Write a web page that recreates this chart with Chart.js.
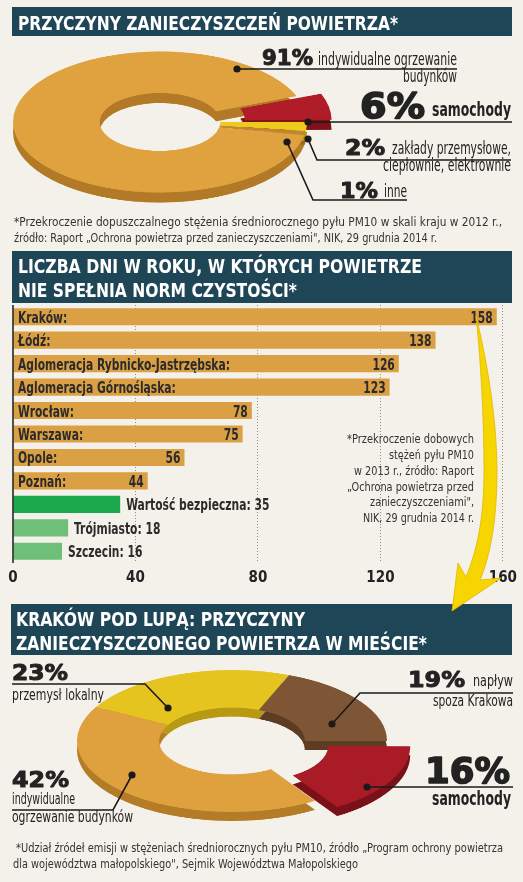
<!DOCTYPE html>
<html><head><meta charset="utf-8">
<script src="https://cdn.jsdelivr.net/npm/chart.js@4"></script>
<style>
html,body{margin:0;padding:0;background:#f4f1ea;width:523px;height:882px;overflow:hidden;}
#page{position:relative;width:523px;height:882px;}
canvas{position:absolute;}
#ov{position:absolute;left:0;top:0;pointer-events:none;}
.cn{font-family:'Liberation Sans Narrow','DejaVu Sans Condensed','Roboto Condensed',Roboto,sans-serif;}
.hv{font-family:'DejaVu Sans',Roboto,sans-serif;font-weight:bold;stroke:#222;paint-order:stroke;stroke-linejoin:round;}
</style></head><body><div id="page">
<canvas id="d1s" width="360" height="360"></canvas>
<canvas id="d1" width="360" height="360"></canvas>
<canvas id="bars" width="523" height="299"></canvas>
<canvas id="d2s" width="380" height="380"></canvas>
<canvas id="d2" width="380" height="380"></canvas>
<svg id="ov" width="523" height="882" xmlns="http://www.w3.org/2000/svg"></svg>
</div>
<script>
// ---------- DATA ----------
const polandSources = ['samochody', 'zakłady przemysłowe, ciepłownie, elektrownie', 'inne', 'indywidualne ogrzewanie budynków'];
const polandShares = [6, 2, 1, 91];

const cityNames = ['Kraków', 'Łódź', 'Aglomeracja Rybnicko-Jastrzębska', 'Aglomeracja Górnośląska', 'Wrocław', 'Warszawa', 'Opole', 'Poznań', 'Wartość bezpieczna', 'Trójmiasto', 'Szczecin'];
const smogDays = [158, 138, 126, 123, 78, 75, 56, 44, 35, 18, 16];
const dayTicks = [0, 40, 80, 120, 160];

const krakowSources = ['przemysł lokalny', 'napływ spoza Krakowa', 'samochody', 'indywidualne ogrzewanie budynków'];
const krakowShares = [23, 19, 16, 42];

// ---------- STYLES ----------
const FONT = "'Liberation Sans Narrow','DejaVu Sans Condensed','Roboto Condensed',Roboto,sans-serif";
const barColors = ['#dca044','#dca044','#dca044','#dca044','#dca044','#dca044','#dca044','#dca044','#1ca84d','#6ebf78','#6ebf78'];

function place(id, left, top, k) {
  const c = document.getElementById(id);
  c.style.left = left + 'px'; c.style.top = top + 'px';
  c.style.transform = 'scaleY(' + k + ')';
  c.style.transformOrigin = '50% 50%';
  return c;
}
function donut(id, values, labels, colors, radius, cutout, rotation, offsets) {
  return new Chart(document.getElementById(id), {
    type: 'doughnut',
    data: { labels: labels, datasets: [{ data: values, backgroundColor: colors, borderWidth: 0, offset: offsets }] },
    options: {
      responsive: false, animation: false, radius: radius, cutout: cutout, rotation: rotation,
      layout: { padding: 0 },
      plugins: { legend: { display: false }, tooltip: { enabled: false } }
    }
  });
}

// Top donut: centre (160,122), radius 147, vertical squash, 10px thick
const k1 = 0.48;
place('d1s', 160 - 180, 122 - 180 + 10, k1);
place('d1', 160 - 180, 122 - 180, k1);
const rot1 = 90 - polandShares[0] * 3.6;
const off1 = [61, 0, 0, 0];
donut('d1s', polandShares, polandSources, ['#7e1119', '#b89a10', '#9a6a1e', '#b27a26'], 147, '41%', rot1, off1);
donut('d1', polandShares, polandSources, ['#b01c27', '#eccb1c', '#c2872c', '#e0a13f'], 147, '41%', rot1, off1);

// Bottom donut: centre (232,741), radius 155, 9px thick
const k2 = 0.458;
place('d2s', 232 - 190, 741 - 190 + 9, k2);
place('d2', 232 - 190, 741 - 190, k2);
const rot2 = 90 - (krakowShares[0] + krakowShares[1]) * 3.6;
const off2 = [0, 0, 90, 0];
donut('d2s', krakowShares, krakowSources, ['#b89a12', '#5c3c22', '#7a1119', '#b57c28'], 155, '47%', rot2, off2);
donut('d2', krakowShares, krakowSources, ['#e6c41f', '#7e5635', '#a91c27', '#dfa03e'], 155, '47%', rot2, off2);

// Bar chart
const barCanvas = document.getElementById('bars');
barCanvas.style.left = '0px'; barCanvas.style.top = '300px';
let SX = 1;
const barLabels = {
  id: 'barLabels',
  afterDatasetsDraw(chart) {
    const ctx = chart.ctx, xs = chart.scales.x, meta = chart.getDatasetMeta(0);
    const x0 = xs.getPixelForValue(0);
    ctx.save();
    ctx.strokeStyle = '#1a1a1a'; ctx.lineWidth = 1.5;
    ctx.beginPath(); ctx.moveTo(x0, chart.chartArea.top); ctx.lineTo(x0, chart.chartArea.bottom); ctx.stroke();
    ctx.font = 'bold 16px ' + FONT;
    SX = Math.min(1, 212 / ctx.measureText(cityNames[2] + ':').width);
    ctx.fillStyle = '#2b2b2b'; ctx.textBaseline = 'alphabetic';
    const draw = (s, x, y, align) => {
      const w = ctx.measureText(s).width * SX;
      const lx = align === 'right' ? x - w : x;
      ctx.save(); ctx.translate(lx, y); ctx.scale(SX, 1); ctx.textAlign = 'left'; ctx.fillText(s, 0, 0); ctx.restore();
    };
    meta.data.forEach((bar, i) => {
      const name = cityNames[i] + ':', val = String(smogDays[i]);
      const wN = ctx.measureText(name).width * SX, wV = ctx.measureText(val).width * SX;
      const y = bar.y + 6;
      if (x0 + 5 + wN + 10 + wV + 4 <= bar.x) {
        draw(name, x0 + 5, y, 'left');
        draw(val, bar.x - 4, y, 'right');
      } else {
        draw(name + ' ' + val, bar.x + 6, y, 'left');
      }
    });
    ctx.restore();
  }
};
new Chart(barCanvas, {
  type: 'bar',
  data: { labels: cityNames, datasets: [{ data: smogDays, backgroundColor: barColors, borderWidth: 0, categoryPercentage: 1, barPercentage: 0.73 }] },
  options: {
    indexAxis: 'y', responsive: false, animation: false,
    layout: { padding: { left: 13, right: 16, top: 5, bottom: 6 } },
    scales: {
      x: {
        min: 0, max: 160,
        afterBuildTicks: s => { s.ticks = dayTicks.map(v => ({ value: v })); },
        grid: { color: c => (c.tick && c.tick.value === 0) ? 'rgba(0,0,0,0)' : '#8c8c8c', lineWidth: 1, drawTicks: false },
        border: { display: false, dash: [1, 2] },
        ticks: { color: '#222', padding: 6, font: { family: FONT, size: 15, weight: 'bold' } }
      },
      y: { display: false }
    },
    plugins: { legend: { display: false }, tooltip: { enabled: false } }
  },
  plugins: [barLabels]
});

// ---------- SVG overlay: headers, arrow, leaders, texts ----------
const svg = document.getElementById('ov');
const NS = 'http://www.w3.org/2000/svg';
function el(tag, attrs, text) {
  const e = document.createElementNS(NS, tag);
  for (const k in attrs) e.setAttribute(k, attrs[k]);
  if (text != null) e.textContent = text;
  svg.appendChild(e); return e;
}
function txt(s, x, y, size, w, cls, fill, weight, sw) {
  const a = { x: x, y: y, 'font-size': size, textLength: w, lengthAdjust: 'spacingAndGlyphs', class: cls, fill: fill || '#222', 'font-weight': weight || 'normal' };
  if (sw) a['stroke-width'] = sw;
  return el('text', a, s);
}
function leader(points, dot) {
  el('polyline', { points: points.map(p => p.join(',')).join(' '), fill: 'none', stroke: '#1a1a1a', 'stroke-width': 1.6 });
  el('circle', { cx: dot[0], cy: dot[1], r: 3.6, fill: '#1a1a1a' });
}
const HEAD = '#1f4656';
el('rect', { x: 12, y: 7, width: 500, height: 29, fill: HEAD });
el('rect', { x: 12, y: 251, width: 500, height: 52, fill: HEAD });
el('rect', { x: 11, y: 604, width: 501, height: 51, fill: HEAD });

// yellow arrow
el('path', { d: 'M476,316 C487,360 497,420 497,470 C497,522 490,556 480,580 L501,578 L452,611 L458,563 L466,577 C477,550 484,520 484,470 C484,420 481,362 476,316 Z', fill: '#f7d500', stroke: '#e2b600', 'stroke-width': 0.8 });

// titles
txt('PRZYCZYNY ZANIECZYSZCZEŃ POWIETRZA*', 18, 30, 19, 380, 'cn', '#fff', 'bold');
txt('LICZBA DNI W ROKU, W KTÓRYCH POWIETRZE', 18, 273, 19, 404, 'cn', '#fff', 'bold');
txt('NIE SPEŁNIA NORM CZYSTOŚCI*', 18, 297, 19, 279, 'cn', '#fff', 'bold');
txt('KRAKÓW POD LUPĄ: PRZYCZYNY', 16, 626, 19, 289, 'cn', '#fff', 'bold');
txt('ZANIECZYSZCZONEGO POWIETRZA W MIEŚCIE*', 16, 650, 19, 411, 'cn', '#fff', 'bold');

// top donut leaders + labels
leader([[237, 69], [457, 69]], [237, 69]);
leader([[308, 122], [512, 122]], [308, 122]);
leader([[308, 139], [317, 160], [511, 160]], [308, 139]);
leader([[287, 142], [313, 200], [407, 200]], [287, 142]);
txt('91%', 262, 65, 21, 51, 'hv', '#222', 'bold', 1);
txt('indywidualne ogrzewanie', 318, 65, 17, 139, 'cn');
txt('budynków', 403, 82, 17, 54, 'cn');
txt('6%', 360, 118, 36, 65, 'hv', '#222', 'bold', 1.6);
txt('samochody', 432, 116, 20, 79, 'cn', '#222', 'bold');
txt('2%', 345, 155, 21, 40, 'hv', '#222', 'bold', 1);
txt('zakłady przemysłowe,', 392, 154, 17, 119, 'cn');
txt('ciepłownie, elektrownie', 383, 171, 17, 128, 'cn');
txt('1%', 340, 198, 21, 38, 'hv', '#222', 'bold', 1);
txt('inne', 384, 197, 17, 23, 'cn');
txt('*Przekroczenie dopuszczalnego stężenia średniorocznego pyłu PM10 w skali kraju w 2012 r.,', 14, 226, 12.5, 488, 'cn', '#333');
txt('źródło: Raport „Ochrona powietrza przed zanieczyszczeniami", NIK, 29 grudnia 2014 r.', 14, 242, 12.5, 423, 'cn', '#333');

// bar chart footnote
const fn2 = [['*Przekroczenie dobowych', 127, 443], ['stężeń pyłu PM10', 85, 459], ['w 2013 r., źródło: Raport', 120, 475], ['„Ochrona powietrza przed', 127, 491], ['zanieczyszczeniami",', 104, 506], ['NIK, 29 grudnia 2014 r.', 111, 522]];
fn2.forEach(f => txt(f[0], 474 - f[1], f[2], 13, f[1], 'cn', '#333'));

// bottom donut leaders + labels
leader([[168, 708], [145, 684], [12, 684]], [168, 708]);
leader([[332, 724], [360, 693], [513, 693]], [332, 724]);
leader([[367, 787], [513, 787]], [367, 787]);
leader([[132, 775], [113, 810], [12, 810]], [132, 775]);
txt('23%', 12, 680, 22, 56, 'hv', '#222', 'bold', 1);
txt('przemysł lokalny', 12, 700, 16, 92, 'cn');
txt('19%', 408, 687, 22, 57, 'hv', '#222', 'bold', 1);
txt('napływ', 473, 686, 16, 40, 'cn');
txt('spoza Krakowa', 433, 706, 16, 80, 'cn');
txt('16%', 425, 783, 36, 85, 'hv', '#222', 'bold', 1.6);
txt('samochody', 432, 805, 20, 79, 'cn', '#222', 'bold');
txt('42%', 12, 787, 22, 57, 'hv', '#222', 'bold', 1);
txt('indywidualne', 12, 804, 16, 63, 'cn');
txt('ogrzewanie budynków', 12, 822, 16, 121, 'cn');
txt('*Udział źródeł emisji w  stężeniach średniorocznych pyłu PM10, źródło „Program ochrony powietrza', 16, 852, 12.5, 487, 'cn', '#333');
txt('dla województwa małopolskiego", Sejmik Województwa Małopolskiego', 13, 868, 12.5, 345, 'cn', '#333');
</script>
</body></html>
